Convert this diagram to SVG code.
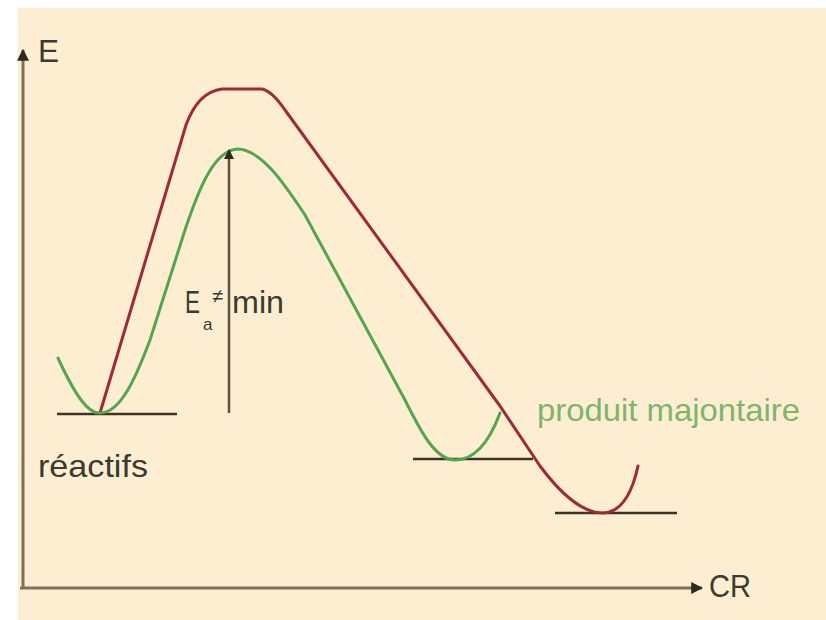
<svg xmlns="http://www.w3.org/2000/svg" width="826" height="620" viewBox="0 0 826 620">
<style>
.lbl{font-family:"Liberation Sans",Arial,sans-serif;font-size:32px;fill:#3a3a30}
.red{fill:none;stroke:#9e2a36;stroke-width:3;stroke-linejoin:round;stroke-linecap:round}
.grn{fill:none;stroke:#55a550;stroke-width:3;stroke-linejoin:round;stroke-linecap:round}
.base{stroke:#3c3424;stroke-width:2.5}
.axis{stroke:#7c7258;stroke-width:3}
</style>
<defs>
<marker id="ah" viewBox="0 0 10 10" refX="9" refY="5" markerWidth="4" markerHeight="4" orient="auto" markerUnits="strokeWidth">
<path d="M0,0 L10,5 L0,10 z" fill="#2a2a20"/>
</marker>
</defs>
<rect width="826" height="620" fill="#ffffff"/>
<rect x="18" y="8" width="808" height="612" fill="#fdeed2"/>
<g id="axes">
<line class="axis" x1="23" y1="588" x2="23" y2="50" marker-end="url(#ah)"/>
<line class="axis" x1="20" y1="588" x2="702" y2="588" marker-end="url(#ah)"/>
</g>
<g id="baselines">
<line class="base" x1="57" y1="414" x2="177" y2="414"/>
<line class="base" x1="413" y1="459" x2="533" y2="459"/>
<line class="base" x1="555" y1="513" x2="677" y2="513"/>
</g>
<g id="curves">
<path id="red-curve" class="red" d="M100,413 L186,125 Q198,92 222,89 L262,89 Q272,91 285,110 L500,406 L540,466 Q575,513 603,513 Q628,512 638,466"/>
<path id="green-curve" class="grn" d="M58,358 C75,395 88,414 100,413 C120,413 135,380 150,340 L185,230 C200,185 215,150 238,149 C262,150 285,185 305,215 L405,400 C420,430 435,460 455,460 C475,460 490,440 500,413"/>
<line id="ea-arrow" x1="229" y1="413" x2="229" y2="150" stroke="#5a5446" stroke-width="2.5" marker-end="url(#ah)"/>
</g>
<g id="labels">
<text class="lbl" x="38" y="62" textLength="21" lengthAdjust="spacingAndGlyphs">E</text>
<text class="lbl" x="709" y="597" textLength="42" lengthAdjust="spacingAndGlyphs">CR</text>
<text class="lbl" x="38" y="477" textLength="110" lengthAdjust="spacingAndGlyphs">réactifs</text>
<text class="lbl" x="537" y="421" textLength="263" lengthAdjust="spacingAndGlyphs" style="fill:#80b46c">produit majontaire</text>
<text class="lbl" x="185" y="313" textLength="15" lengthAdjust="spacingAndGlyphs">E</text>
<text class="lbl" x="203" y="330" style="font-size:17px">a</text>
<text class="lbl" x="212" y="303" style="font-size:20px">≠</text>
<text class="lbl" x="232" y="313" textLength="52" lengthAdjust="spacingAndGlyphs">min</text>
</g>
</svg>
